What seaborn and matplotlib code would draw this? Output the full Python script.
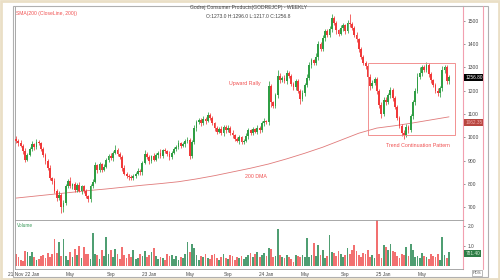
import numpy as np
import pandas as pd
import matplotlib
matplotlib.use("Agg")
import matplotlib.pyplot as plt
from matplotlib.patches import Rectangle
from matplotlib.lines import Line2D
import matplotlib.transforms as mtransforms
import seaborn as sns

# ---------------- data (weekly candles) ----------------
close = [985, 975, 965, 940, 905, 925, 950, 970, 960, 980,
         975, 950, 925, 900, 870, 825, 815, 770, 740, 755,
         700, 720, 790, 815, 790, 800, 775, 795, 770, 790,
         770, 750, 735, 790, 810, 880, 860, 885, 860, 875,
         905, 920, 910, 935, 945, 930, 915, 870, 845, 835,
         830, 825, 835, 845, 855, 850, 890, 930, 915, 900,
         920, 905, 925, 935, 920, 945, 940, 930, 915, 935,
         950, 960, 975, 965, 970, 985, 990, 920, 980, 1040,
         1065, 1075, 1060, 1080, 1070, 1095, 1085, 1060, 1040, 1025,
         1035, 1020, 1045, 1030, 1040, 1020, 1010, 995, 985, 1000,
         980, 985, 1005, 1030, 1020, 1035, 1025, 1040, 1030, 1060,
         1070, 1065, 1220, 1150, 1135, 1180, 1265, 1245, 1255, 1240,
         1275, 1265, 1230, 1215, 1240, 1200, 1165, 1190, 1225, 1255,
         1310, 1330, 1320, 1345, 1400, 1380, 1425, 1455, 1440, 1465,
         1510, 1490, 1460, 1445, 1470, 1480, 1455, 1490, 1485, 1470,
         1440, 1420, 1380, 1345, 1320, 1305, 1260, 1220, 1235, 1250,
         1200, 1140, 1100, 1160, 1150, 1180, 1205, 1170, 1130, 1085,
         1050, 1020, 1010, 1045, 1030, 1090, 1150, 1200, 1260, 1275,
         1300, 1290, 1310, 1270, 1245, 1225, 1200, 1190, 1210, 1290,
         1300, 1240, 1256.8]
first_open = 995

upper_wick = [10, 8, 12, 6, 15, 10, 8, 14, 6, 12,
              9, 5, 10, 8, 6, 12, 5, 10, 8, 14,
              6, 10, 12, 8, 15, 6, 10, 8, 12, 6,
              8, 10, 5, 12, 10, 15, 8, 10, 6, 12,
              8, 10, 12, 8, 22, 10, 6, 8, 10, 5,
              6, 8, 10, 6, 12, 8, 10, 15, 8, 10,
              6, 12, 10, 8, 14, 6, 10, 8, 12, 6,
              10, 8, 12, 6, 10, 8, 12, 6, 10, 12,
              8, 10, 6, 12, 8, 14, 10, 8, 6, 10,
              8, 12, 10, 6, 12, 8, 10, 6, 8, 10,
              6, 8, 12, 10, 8, 10, 6, 12, 8, 10,
              12, 6, 20, 10, 8, 12, 25, 10, 8, 12,
              15, 10, 8, 6, 12, 10, 8, 12, 10, 15,
              12, 10, 8, 15, 12, 10, 15, 10, 8, 12,
              20, 10, 8, 6, 12, 10, 8, 12, 40, 10,
              8, 10, 6, 8, 10, 6, 8, 10, 12, 10,
              8, 6, 10, 12, 15, 10, 12, 8, 6, 10,
              8, 6, 10, 12, 8, 10, 12, 10, 15, 25,
              10, 12, 15, 8, 10, 6, 8, 10, 12, 15,
              12, 10, 10]
lower_wick = [8, 10, 6, 12, 10, 8, 6, 10, 12, 8,
              6, 10, 8, 12, 10, 8, 15, 10, 12, 8,
              25, 20, 10, 8, 6, 12, 8, 10, 6, 12,
              10, 8, 12, 10, 8, 6, 12, 8, 10, 6,
              8, 10, 6, 12, 8, 10, 6, 12, 8, 10,
              12, 8, 6, 10, 8, 12, 10, 6, 8, 12,
              10, 6, 8, 12, 10, 8, 6, 10, 12, 8,
              6, 10, 8, 12, 6, 10, 8, 12, 10, 8,
              12, 6, 10, 8, 12, 6, 10, 8, 12, 10,
              6, 8, 12, 10, 6, 8, 12, 10, 6, 12,
              10, 8, 6, 12, 10, 8, 6, 10, 12, 8,
              10, 6, 12, 20, 10, 8, 12, 10, 6, 8,
              12, 10, 8, 12, 10, 8, 20, 10, 12, 8,
              10, 12, 8, 10, 12, 8, 10, 12, 8, 10,
              12, 10, 15, 10, 8, 12, 10, 8, 12, 10,
              8, 10, 12, 10, 8, 12, 10, 15, 8, 10,
              12, 15, 18, 10, 12, 8, 10, 12, 10, 12,
              10, 12, 15, 10, 12, 8, 10, 12, 8, 10,
              12, 10, 8, 12, 10, 8, 10, 12, 15, 10,
              12, 10, 12]

volume = [0.6, 0.45, 0.3, 0.25, 0.75, 0.7, 0.5, 0.7, 0.45, 0.3,
          0.35, 0.5, 0.55, 0.4, 0.65, 0.45, 0.6, 1.35, 0.65, 1.2,
          0.5, 1.35, 0.5, 0.3, 0.7, 0.45, 0.85, 0.55, 1.0, 0.4,
          0.95, 0.6, 0.6, 0.35, 1.65, 0.6, 0.55, 0.35, 0.8, 0.5,
          1.45, 0.6, 0.8, 0.45, 0.85, 0.6, 0.35, 0.95, 0.55, 0.4,
          0.6, 0.45, 0.8, 0.35, 0.4, 0.6, 0.5, 0.75, 0.45, 0.55,
          0.7, 0.9, 0.5, 0.35, 0.45, 0.4, 0.3, 0.6, 0.5, 0.55,
          0.35, 0.5, 0.3, 0.45, 0.4, 0.6, 1.2, 0.7, 1.1, 0.9,
          0.55, 0.3, 0.5, 0.45, 0.6, 0.4, 0.35, 0.55, 0.6, 0.4,
          0.3, 0.45, 0.6, 0.4, 0.35, 0.55, 0.5, 0.3, 0.45, 0.4,
          0.5, 0.35, 0.45, 0.55, 0.65, 0.45, 0.6, 0.7, 0.45, 0.55,
          0.65, 0.5, 0.9, 0.85, 0.45, 0.5, 1.85, 0.55, 0.45, 0.4,
          0.55, 0.45, 0.35, 0.2, 0.55, 0.5, 0.45, 0.55, 0.45, 1.4,
          0.45, 0.55, 1.15, 0.5, 1.05, 0.55, 0.8, 0.4, 0.5, 1.55,
          0.7, 0.65, 0.5, 0.75, 0.6, 0.45, 0.55, 0.9, 0.6, 0.8,
          1.05, 0.75, 0.55, 0.45, 0.65, 0.6, 0.8, 0.45, 0.55, 0.4,
          2.35, 0.6, 0.4, 1.05, 0.95, 0.8, 1.1, 0.75, 0.7, 0.5,
          0.4, 0.6, 0.55, 0.95, 0.5, 1.1, 0.8, 0.45, 0.5, 0.4,
          0.65, 0.5, 0.45, 0.35, 0.6, 0.5, 0.45, 0.6, 0.3, 1.45,
          0.55, 0.4, 0.7]

# 200 DMA sampled every 8 weeks
dma_week = [0, 8, 16, 24, 32, 40, 48, 56, 64, 72, 80, 88, 96,
            104, 112, 120, 128, 136, 144, 152, 160, 168, 176, 184, 192]
dma_value = [740, 748, 756, 764, 772, 779, 787, 795, 802, 810, 822, 836, 852,
             868, 886, 908, 932, 958, 988, 1018, 1040, 1050, 1062, 1075, 1088]
dma_label_value = 1062.35
volume_label = "781.40"

xtick_week = [0, 7, 24, 42, 59, 77, 94, 111, 128, 146, 163, 180]
xtick_label = ["21 Nov", "22 Jan", "May", "Sep", "23 Jan", "May", "Sep",
               "24 Jan", "May", "Sep", "25 Jan", "May"]
ytick_price = [700, 800, 900, 1000, 1100, 1200, 1300, 1400, 1500]
ytick_vol = [1.0, 2.0]

# ---------------- build frame ----------------
n = len(close)
idx = np.arange(n)
close_a = np.array(close, float)
open_a = np.r_[first_open, close_a[:-1]]
high_a = np.maximum(open_a, close_a) + np.array(upper_wick)
low_a = np.minimum(open_a, close_a) - np.array(lower_wick)
up = close_a >= open_a
df = pd.DataFrame({"week": idx, "open": open_a, "close": close_a,
                   "high": high_a, "low": low_a, "volume": volume,
                   "dir": np.where(up, "up", "down")})
dma = pd.DataFrame({"week": dma_week, "dma": dma_value})

sns.set_theme(style="white")
plt.rcParams["font.family"] = ["Liberation Sans", "DejaVu Sans"]

GREEN = "#2f9e44"
RED = "#f03a3a"
VGREEN = "#4f9e72"
VRED = "#f27070"
PINK = "#f2a0b0"
FRAME = "#9a9a9a"

fig = plt.figure(figsize=(5, 2.8), dpi=100)
W, H = 500.0, 280.0
axp = fig.add_axes([15 / W, 1 - 220 / H, (463 - 15) / W, (220 - 6) / H])
axv = fig.add_axes([15 / W, 1 - 269 / H, (463 - 15) / W, (269 - 220) / H], sharex=axp)

# candles
cols = np.where(up, GREEN, RED)
axp.vlines(df["week"], df["low"], df["high"], colors=cols, linewidth=0.55, zorder=2)
axp.bar(df["week"], (df["close"] - df["open"]).abs().clip(lower=2),
        bottom=np.minimum(df["open"], df["close"]), width=0.8,
        color=cols, edgecolor="none", zorder=3)

# 200 DMA
sns.lineplot(data=dma, x="week", y="dma", ax=axp, color="#e07a7a",
             linewidth=0.6, legend=False, zorder=1)

axp.set_xlim(-0.5, 198.2)
axp.set_ylim(646, 1563)
axp.set_xlabel("")
axp.set_ylabel("")
axp.yaxis.tick_right()
axp.set_yticks(ytick_price)
axp.set_yticklabels([str(v) for v in ytick_price])
axp.tick_params(axis="y", labelsize=3.6, colors="#444444", length=1.5, pad=2, width=0.4)
axp.tick_params(axis="x", bottom=False, labelbottom=False)
for s in ["left", "top", "bottom"]:
    axp.spines[s].set_color(FRAME)
    axp.spines[s].set_linewidth(0.6)
axp.spines["right"].set_color(PINK)
axp.spines["right"].set_linewidth(0.8)

# annotations
box_x0, box_x1, box_y0, box_y1 = 156, 194.5, 1010, 1318
axp.add_patch(Rectangle((box_x0, box_y0), box_x1 - box_x0, box_y1 - box_y0,
                        fill=False, edgecolor="#f08080", linewidth=0.6, zorder=4))
axp.text(101.5, 1232, "Upward Rally", color="#f05050", fontsize=3.8, ha="center", va="center")
axp.text(106.5, 834, "200 DMA", color="#f05050", fontsize=3.8, ha="center", va="center")
axp.text(178, 967, "Trend Continuation Pattern", color="#f05050", fontsize=3.8,
         ha="center", va="center")
axp.text(0.003, 0.975, "SMA(200 (CloseLine, 200))", transform=axp.transAxes,
         color="#f05050", fontsize=3.6, ha="left", va="top")

# right-axis value boxes
tr = mtransforms.blended_transform_factory(axp.transAxes, axp.transData)
axp.text(1.005, close_a[-1], f"{close_a[-1]:.2f}", transform=tr, fontsize=3.4,
         color="white", ha="left", va="center",
         bbox=dict(boxstyle="square,pad=0.25", fc="black", ec="none"))
axp.text(1.005, dma_label_value, f"{dma_label_value:.2f}", transform=tr, fontsize=3.4,
         color="#f0b0b0", ha="left", va="center",
         bbox=dict(boxstyle="square,pad=0.2", fc="#b8463f", ec="none"))

# volume
vcols = np.where(up, VGREEN, VRED)
axv.bar(df["week"], df["volume"], width=0.78, color=vcols, edgecolor="none")
axv.set_xlim(-0.5, 198.2)
axv.set_ylim(-0.15, 2.3)
axv.set_xlabel("")
axv.set_ylabel("")
axv.yaxis.tick_right()
axv.set_yticks(ytick_vol)
axv.set_yticklabels(["1.0", "2.0"])
axv.tick_params(axis="y", labelsize=3.4, colors="#444444", length=1.5, pad=2, width=0.4)
axv.set_xticks(xtick_week)
axv.set_xticklabels(xtick_label)
axv.tick_params(axis="x", labelsize=3.4, colors="#444444", length=1.2, pad=1.2, width=0.4)
for s in ["left", "top", "bottom"]:
    axv.spines[s].set_color(FRAME)
    axv.spines[s].set_linewidth(0.6)
axv.spines["right"].set_color(PINK)
axv.spines["right"].set_linewidth(0.8)
axv.text(0.004, 0.93, "Volume", transform=axv.transAxes, color="#3a9a5a",
         fontsize=3.4, ha="left", va="top")
trv = mtransforms.blended_transform_factory(axv.transAxes, axv.transData)
axv.text(1.005, 0.62, volume_label, transform=trv, fontsize=3.4,
         color="#d8f0d8", ha="left", va="center",
         bbox=dict(boxstyle="square,pad=0.25", fc="#2e7d46", ec="none"))

# title lines
fig.text(248 / W, 1 - 8 / H, "Godrej Consumer Products(GODREJCP) - WEEKLY",
         fontsize=3.6, color="#444444", ha="center", va="center")
fig.text(248 / W, 1 - 16 / H, "O:1273.0 H:1296.0 L:1217.0 C:1256.8",
         fontsize=3.6, color="#444444", ha="center", va="center")

# outer frame and right side lines
fig.add_artist(Line2D([483 / W, 483 / W], [1 - 6 / H, 1 - 269 / H], color=PINK, lw=0.8))
fig.add_artist(Rectangle((13 / W, 1 - 277 / H), (488 - 13) / W, (277 - 6) / H,
                         fill=False, edgecolor="#b0b0b0", linewidth=0.8,
                         transform=fig.transFigure))
fig.add_artist(Rectangle((0.002, 0.003), 0.996, 0.994, fill=False, edgecolor="#eadfc6",
                         linewidth=2.0, transform=fig.transFigure))
fig.text(477 / W, 1 - 273 / H, "PDS", fontsize=3.0, color="#555555", ha="center",
         va="center", bbox=dict(boxstyle="square,pad=0.2", fc="white", ec="#888888", lw=0.4))

fig.savefig("out.png", dpi=100)
